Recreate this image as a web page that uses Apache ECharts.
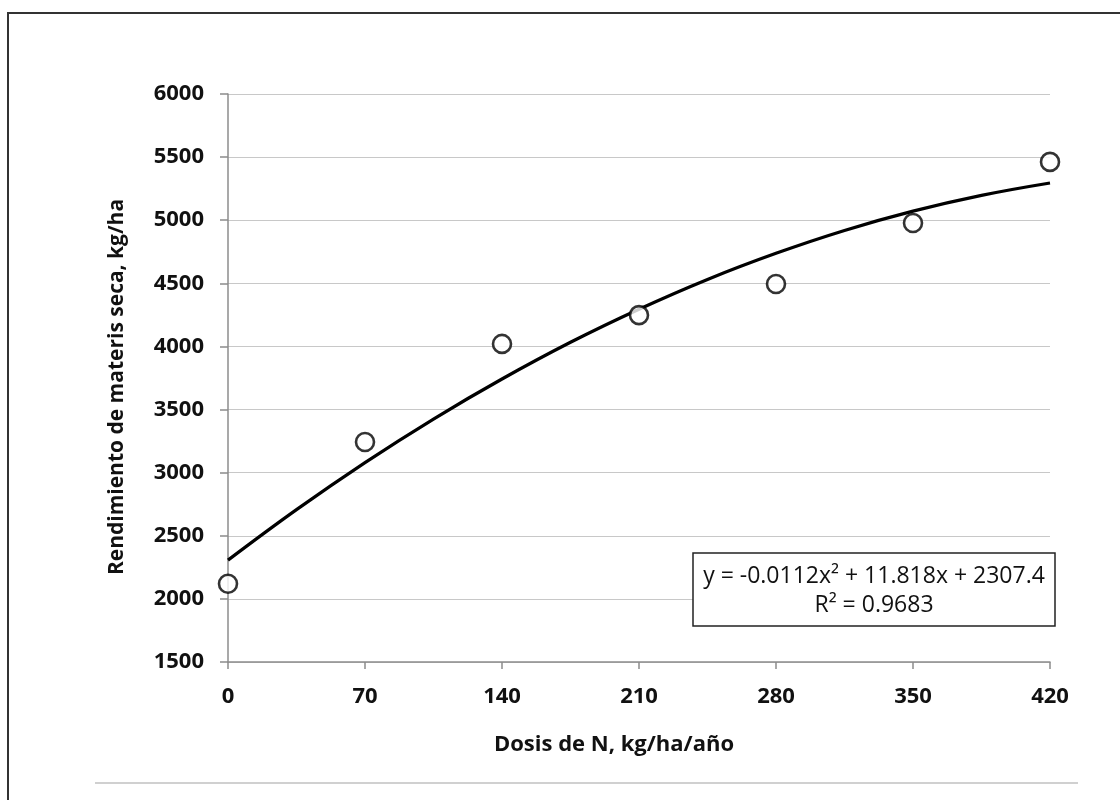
<!DOCTYPE html>
<html>
<head>
<meta charset="utf-8">
<script src="https://cdn.jsdelivr.net/npm/echarts@6/dist/echarts.min.js"></script>
<style>
html,body{margin:0;padding:0;background:#fff;}
#chart{width:1120px;height:800px;}
</style>
</head>
<body>
<div id="chart"></div>
<script>
// Observed data points (dose of N, dry matter yield)
const doses = [0, 70, 140, 210, 280, 350, 420];
const yields = [2120, 3243, 4020, 4248, 4495, 4978, 5462];
// Trend line at regular doses
const trendX = [0, 35, 70, 105, 140, 175, 210, 245, 280, 315, 350, 385, 420];
const trendY = [2307, 2707, 3080, 3425, 3742, 4033, 4295, 4531, 4738, 4919, 5072, 5197, 5295];
const xTicks = [0, 70, 140, 210, 280, 350, 420];
const yTicks = [1500, 2000, 2500, 3000, 3500, 4000, 4500, 5000, 5500, 6000];
const xTitle = 'Dosis de N, kg/ha/año';
const yTitle = 'Rendimiento de materis seca, kg/ha';
const eqLine1 = 'y = -0.0112x² + 11.818x + 2307.4';
const eqLine2 = 'R² = 0.9683';

const FONT = '"Open Sans", "Noto Sans", sans-serif';
const chart = echarts.init(document.getElementById('chart'), null, {renderer: 'canvas'});
chart.setOption({
  animation: false,
  backgroundColor: '#fff',
  grid: {left: 228, right: 70, top: 94, bottom: 138, containLabel: false},
  xAxis: {
    type: 'value', min: xTicks[0], max: xTicks[xTicks.length - 1], interval: 70,
    axisLine: {show: true, lineStyle: {color: '#8c8c8c', width: 1.5}},
    axisTick: {show: true, inside: false, length: 7, lineStyle: {color: '#8c8c8c', width: 1.5}},
    axisLabel: {margin: 24, fontFamily: FONT, fontWeight: 'bold', fontSize: 22, color: '#111',
                formatter: v => String(v)},
    splitLine: {show: false}
  },
  yAxis: {
    type: 'value', min: yTicks[0], max: yTicks[yTicks.length - 1], interval: 500,
    axisLine: {show: true, lineStyle: {color: '#8c8c8c', width: 1.5}},
    axisTick: {show: true, inside: false, length: 8, lineStyle: {color: '#8c8c8c', width: 1.5}},
    axisLabel: {margin: 24, fontFamily: FONT, fontWeight: 'bold', fontSize: 22, color: '#111',
                formatter: v => String(v)},
    splitLine: {show: true, lineStyle: {color: '#c8c8c8', width: 1.2}}
  },
  series: [
    {
      type: 'line', name: 'trend',
      data: trendX.map((x, i) => [x, trendY[i]]),
      smooth: 0.4, showSymbol: false, symbol: 'none',
      lineStyle: {color: '#000', width: 3.2}, z: 2
    },
    {
      type: 'scatter', name: 'data',
      data: doses.map((x, i) => [x, yields[i]]),
      symbol: 'circle', symbolSize: 18,
      itemStyle: {color: '#fff', borderColor: '#000', borderWidth: 2.6}, z: 3
    }
  ],
  graphic: [
    {type: 'rect', shape: {x: 8, y: 13, width: 1130, height: 820},
     style: {fill: null, stroke: '#333', lineWidth: 2}, z: 0, silent: true},
    {type: 'line', shape: {x1: 95, y1: 783, x2: 1078, y2: 783},
     style: {stroke: '#c0c0c0', lineWidth: 1.5}, z: 0},
    {type: 'text', x: 614, y: 745,
     style: {text: xTitle, fontFamily: FONT, fontWeight: 'bold', fontSize: 22, fill: '#111', align: 'center', verticalAlign: 'middle'}},
    {type: 'text', x: 117, y: 387, rotation: Math.PI / 2,
     style: {text: yTitle, fontFamily: FONT, fontWeight: 'bold', fontSize: 21, fill: '#111', align: 'center', verticalAlign: 'middle'}},
    {type: 'rect', shape: {x: 693, y: 553, width: 362, height: 73},
     style: {fill: '#fff', stroke: '#222', lineWidth: 1.5}, z: 10},
    {type: 'text', x: 874, y: 576, z: 11,
     style: {text: eqLine1, fontFamily: FONT, fontSize: 23, fill: '#111', align: 'center', verticalAlign: 'middle'}},
    {type: 'text', x: 874, y: 605, z: 11,
     style: {text: eqLine2, fontFamily: FONT, fontSize: 23, fill: '#111', align: 'center', verticalAlign: 'middle'}}
  ]
});
</script>
</body>
</html>
